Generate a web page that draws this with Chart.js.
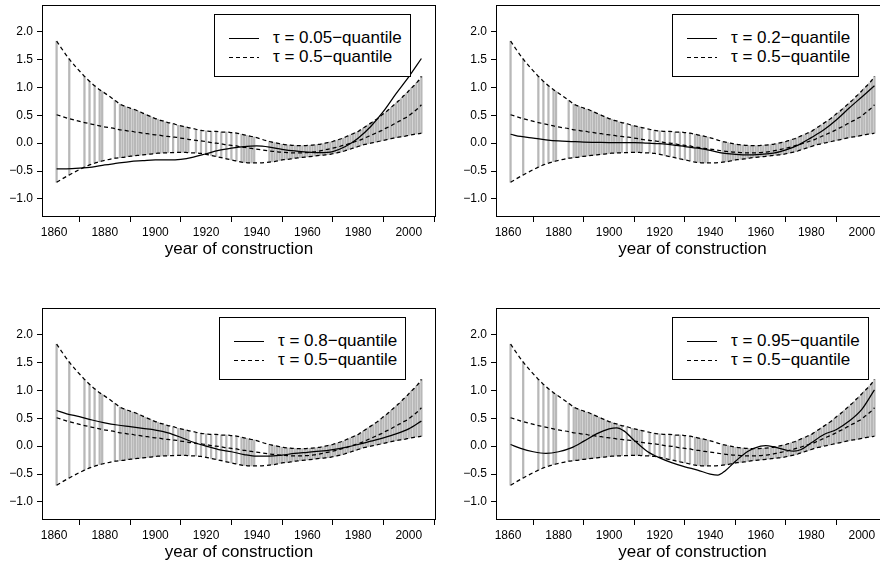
<!DOCTYPE html>
<html>
<head>
<meta charset="utf-8">
<script src="https://cdn.jsdelivr.net/npm/chart.js@4.4.1/dist/chart.umd.min.js"></script>
<style>
  body { margin: 0; background: #fff; overflow: hidden; width: 880px; height: 565px; position: relative; }
  canvas { position: absolute; }
  .lg { position: absolute; border: 1px solid #000; background: #fff; padding: 13px 8px 10px 14px;
        font-family: "Liberation Sans", Arial, sans-serif; font-size: 17px; color: #000; }
  .row { height: 19px; line-height: 19px; white-space: nowrap; }
  .smp { display: inline-block; width: 30px; height: 1px; vertical-align: middle; margin-right: 14px; background: #000; }
  .smp.d { background: repeating-linear-gradient(to right, #000 0 4px, transparent 4px 7px); }
</style>
</head>
<body>
<canvas id="c1" width="440" height="263" style="left:0;top:0"></canvas>
<canvas id="c2" width="453" height="263" style="left:440px;top:0"></canvas>
<canvas id="c3" width="440" height="263" style="left:0;top:303px"></canvas>
<canvas id="c4" width="453" height="263" style="left:440px;top:303px"></canvas>

<div class="lg" style="left:214px;top:14px"><div class="row"><span class="smp"></span>τ = 0.05−quantile</div><div class="row"><span class="smp d"></span>τ = 0.5−quantile</div></div>
<div class="lg" style="left:672px;top:14px"><div class="row"><span class="smp"></span>τ = 0.2−quantile</div><div class="row"><span class="smp d"></span>τ = 0.5−quantile</div></div>
<div class="lg" style="left:219px;top:317px"><div class="row"><span class="smp"></span>τ = 0.8−quantile</div><div class="row"><span class="smp d"></span>τ = 0.5−quantile</div></div>
<div class="lg" style="left:672px;top:317px"><div class="row"><span class="smp"></span>τ = 0.95−quantile</div><div class="row"><span class="smp d"></span>τ = 0.5−quantile</div></div>

<script>
// years with observations (grey bars), band + median read at those years
const years = [1861,1866,1872,1874,1876,1878,1879,1884,
  1886,1887,1888,1889,1890,1891,1892,1893,1894,1895,1896,1897,1898,1899,1900,1901,1902,1903,1904,1905,
  1907,1909,1910,1911,1912,1913,
  1916,1918,1920,1922,1924,1926,1928,1930,1932,
  1934,1935,1936,1937,1938,1939,
  1945,1946,1947,1948,1949,1950,1951,1952,1953,1954,
  1955,1956,1957,1958,1959,1960,1961,1962,1963,1964,
  1965,1966,1967,1968,1969,1970,1971,1972,1973,1974,
  1975,1976,1977,1978,1979,1980,1981,1982,1983,1984,
  1985,1986,1987,1988,1989,1990,1991,1992,1993,1994,
  1995,1996,1997,1998,1999,2000,2001,2002,2003,2004,
  2005];

const upper = [1.83,1.51,1.20,1.11,1.03,0.96,0.93,0.77,
  0.70,0.68,0.66,0.645,0.63,0.61,0.60,0.58,0.56,0.54,0.52,0.50,0.48,0.46,0.44,0.43,0.41,0.40,0.38,0.37,
  0.35,0.32,0.31,0.30,0.29,0.28,
  0.25,0.23,0.22,0.21,0.21,0.20,0.20,0.19,0.18,
  0.16,0.15,0.14,0.13,0.12,0.11,
  0.03,0.02,0.01,0.00,-0.01,-0.02,-0.025,-0.03,-0.035,-0.04,
  -0.04,-0.045,-0.045,-0.045,-0.045,-0.04,-0.04,-0.035,-0.03,-0.025,
  -0.02,-0.01,0.0,0.01,0.02,0.03,0.045,0.06,0.075,0.09,
  0.11,0.13,0.15,0.17,0.19,0.21,0.24,0.27,0.30,0.33,
  0.36,0.39,0.42,0.45,0.49,0.53,0.56,0.60,0.64,0.68,
  0.72,0.76,0.80,0.85,0.89,0.94,0.99,1.03,1.08,1.13,
  1.20];

const lower = [-0.70,-0.57,-0.43,-0.39,-0.36,-0.33,-0.32,-0.27,
  -0.26,-0.255,-0.25,-0.24,-0.235,-0.23,-0.225,-0.22,-0.215,-0.21,-0.205,-0.20,-0.195,-0.19,-0.185,-0.18,-0.18,-0.175,-0.175,-0.17,
  -0.17,-0.165,-0.165,-0.165,-0.165,-0.17,
  -0.175,-0.185,-0.20,-0.22,-0.24,-0.26,-0.28,-0.30,-0.32,
  -0.34,-0.345,-0.35,-0.355,-0.355,-0.355,
  -0.34,-0.335,-0.33,-0.32,-0.31,-0.30,-0.295,-0.29,-0.285,-0.28,
  -0.27,-0.265,-0.26,-0.255,-0.25,-0.245,-0.24,-0.235,-0.23,-0.225,
  -0.22,-0.215,-0.21,-0.205,-0.20,-0.19,-0.18,-0.17,-0.16,-0.15,
  -0.135,-0.12,-0.105,-0.09,-0.075,-0.06,-0.045,-0.03,-0.02,-0.01,
  0.0,0.01,0.02,0.03,0.04,0.05,0.06,0.07,0.08,0.09,
  0.10,0.11,0.115,0.12,0.13,0.14,0.15,0.16,0.165,0.17,
  0.18];

const median = [0.51,0.44,0.37,0.35,0.33,0.31,0.30,0.26,
  0.24,0.235,0.23,0.22,0.215,0.21,0.20,0.195,0.19,0.18,0.175,0.17,0.16,0.155,0.15,0.145,0.14,0.13,0.125,0.12,
  0.11,0.10,0.09,0.085,0.08,0.07,
  0.05,0.04,0.03,0.01,0.0,-0.01,-0.03,-0.04,-0.05,
  -0.07,-0.075,-0.08,-0.09,-0.095,-0.10,
  -0.14,-0.145,-0.15,-0.155,-0.16,-0.16,-0.165,-0.17,-0.17,-0.175,
  -0.175,-0.175,-0.175,-0.175,-0.17,-0.17,-0.165,-0.16,-0.155,-0.15,
  -0.14,-0.13,-0.12,-0.11,-0.10,-0.09,-0.08,-0.07,-0.055,-0.04,
  -0.03,-0.015,0.0,0.015,0.03,0.045,0.06,0.08,0.10,0.12,
  0.14,0.16,0.18,0.20,0.22,0.245,0.27,0.29,0.31,0.34,
  0.36,0.39,0.41,0.44,0.46,0.49,0.53,0.56,0.60,0.64,
  0.69];

// quantile curves
const qYears = [1861,1865,1870,1875,1880,1885,1890,1895,1900,1905,1910,1915,1920,1925,1930,1935,1940,1945,1950,1955,1960,1965,1970,1975,1980,1985,1990,1995,2000,2005];
const q05 = [-0.46,-0.46,-0.45,-0.43,-0.39,-0.36,-0.33,-0.315,-0.30,-0.30,-0.29,-0.25,-0.19,-0.13,-0.09,-0.06,-0.05,-0.07,-0.11,-0.14,-0.16,-0.17,-0.15,-0.06,0.09,0.30,0.57,0.89,1.19,1.52];
const q20 = [0.16,0.12,0.09,0.06,0.04,0.03,0.02,0.015,0.01,0.01,0.01,0.0,-0.01,-0.03,-0.06,-0.09,-0.13,-0.18,-0.20,-0.21,-0.20,-0.18,-0.12,-0.03,0.10,0.24,0.42,0.63,0.83,1.03];
const q80 = [0.64,0.58,0.53,0.47,0.42,0.38,0.35,0.32,0.29,0.24,0.16,0.07,0.0,-0.06,-0.10,-0.15,-0.18,-0.18,-0.16,-0.13,-0.11,-0.09,-0.06,-0.02,0.03,0.09,0.15,0.22,0.31,0.45];
const q95Years = [1861,1865,1870,1875,1880,1885,1890,1895,1900,1903,1906,1910,1915,1920,1925,1930,1935,1940,1943,1946,1950,1955,1960,1962,1965,1970,1973,1976,1980,1985,1990,1995,2000,2005];
const q95 = [0.03,-0.04,-0.10,-0.13,-0.10,-0.03,0.09,0.22,0.31,0.33,0.27,0.10,-0.09,-0.21,-0.30,-0.37,-0.43,-0.50,-0.52,-0.44,-0.27,-0.09,0.0,0.01,-0.01,-0.07,-0.09,-0.06,0.06,0.21,0.30,0.45,0.66,1.01];

const xTicks = [1860,1880,1900,1920,1940,1960,1980,2000];
const yTicks = [-1.0,-0.5,0.0,0.5,1.0,1.5,2.0];

Chart.defaults.font.family = '"Liberation Sans", Arial, sans-serif';
Chart.defaults.color = '#000';

const boxPlugin = {
  id: 'box',
  afterDatasetsDraw(chart) {
    const a = chart.chartArea, c = chart.ctx;
    c.save();
    c.strokeStyle = '#000';
    c.lineWidth = 1;
    c.strokeRect(Math.round(a.left) + 0.5, Math.round(a.top) + 0.5, Math.round(a.right - a.left) - 1, Math.round(a.bottom - a.top) - 1);
    c.restore();
  }
};

function pts(xs, ys) {
  return xs.map((x, i) => ({x: x, y: ys[i]}));
}

function dashed(ys) {
  return {
    type: 'line',
    data: pts(years, ys),
    borderColor: '#000',
    borderWidth: 1.25,
    borderDash: [4, 3],
    pointRadius: 0,
    cubicInterpolationMode: 'monotone',
    order: 1
  };
}

const panels = [
  {id: 'c1', qx: qYears, q: q05, yW: 42},
  {id: 'c2', qx: qYears, q: q20, yW: 56},
  {id: 'c3', qx: qYears, q: q80, yW: 42},
  {id: 'c4', qx: q95Years, q: q95, yW: 56}
];

panels.forEach(p => {
  const ctx = document.getElementById(p.id);
  new Chart(ctx, {
    type: 'line',
    data: {
      datasets: [
        {
          type: 'bar',
          data: years.map((x, i) => ({x: x, y: [lower[i], upper[i]]})),
          backgroundColor: '#b8b8b8',
          barThickness: 1.6,
          grouped: false,
          order: 10
        },
        dashed(upper),
        dashed(lower),
        dashed(median),
        {
          type: 'line',
          data: pts(p.qx, p.q),
          borderColor: '#000',
          borderWidth: 1.25,
          pointRadius: 0,
          cubicInterpolationMode: 'monotone',
          order: 0
        }
      ]
    },
    options: {
      responsive: false,
      animation: false,
      devicePixelRatio: 1,
      layout: { padding: {top: 5, right: 4, left: 0, bottom: 0} },
      plugins: { legend: {display: false}, tooltip: {enabled: false} },
      scales: {
        x: {
          type: 'linear',
          min: 1855.24,
          max: 2010.76,
          offset: false,
          afterBuildTicks: s => { s.ticks = xTicks.map(v => ({value: v})); },
          afterFit: s => { s.height = 46; s.paddingLeft = 0; s.paddingRight = 0; },
          ticks: { font: {size: 12}, color: '#000', padding: 3, maxRotation: 0, autoSkip: false,
                   callback: v => String(v) },
          grid: { drawOnChartArea: false, drawTicks: true, tickLength: 5, color: '#000' },
          border: { display: false },
          title: { display: true, text: 'year of construction', font: {size: 17}, color: '#000',
                   padding: {top: 0, bottom: 3} }
        },
        y: {
          type: 'linear',
          min: -1.325,
          max: 2.48,
          afterBuildTicks: s => { s.ticks = yTicks.map(v => ({value: v})); },
          afterFit: s => { s.width = p.yW; s.paddingTop = 0; s.paddingBottom = 0; },
          ticks: { font: {size: 12}, color: '#000', padding: 4,
                   callback: v => v.toFixed(1).replace('-', '\u2212') },
          grid: { drawOnChartArea: false, drawTicks: true, tickLength: 5, color: '#000' },
          border: { display: false }
        }
      }
    },
    plugins: [boxPlugin]
  });
});
</script>
</body>
</html>
